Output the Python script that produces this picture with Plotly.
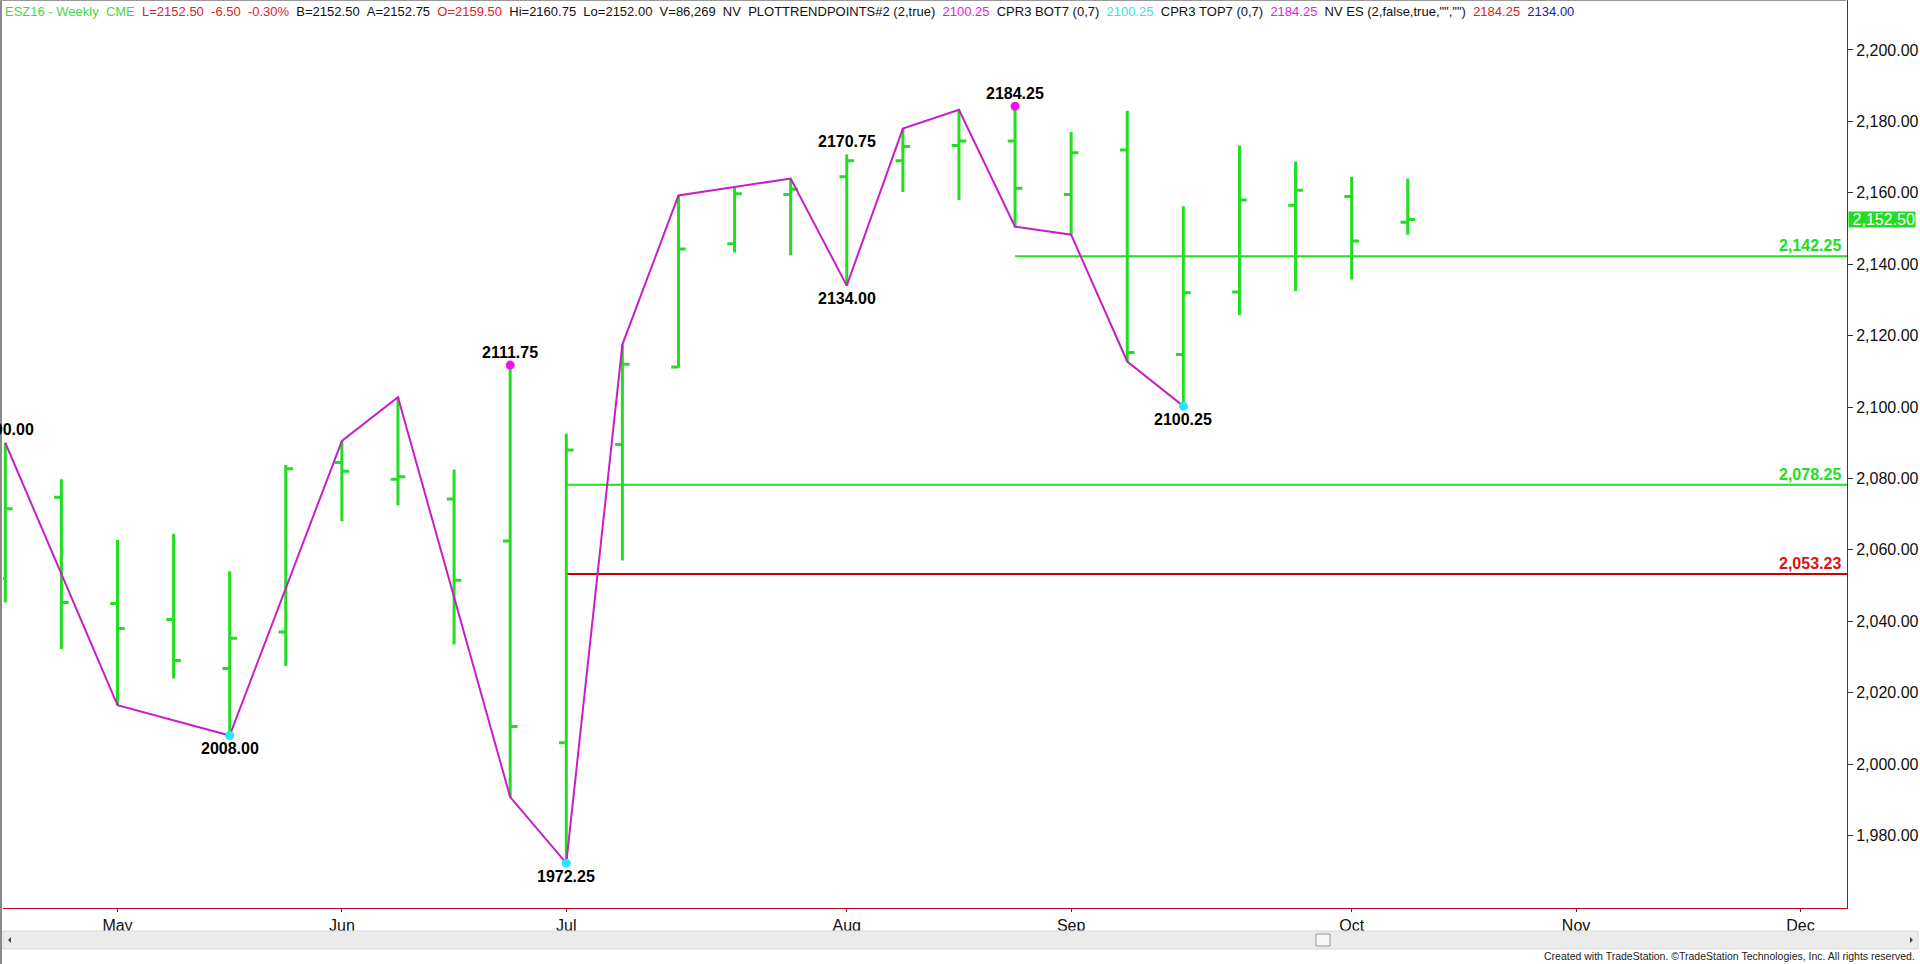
import plotly.graph_objects as go

# ---------------- data ----------------
WEEKS = ["2016-04-22", "2016-04-29", "2016-05-06", "2016-05-13", "2016-05-20", "2016-05-27",
         "2016-06-03", "2016-06-10", "2016-06-17", "2016-06-24", "2016-07-01", "2016-07-08",
         "2016-07-15", "2016-07-22", "2016-07-29", "2016-08-05", "2016-08-12", "2016-08-19",
         "2016-08-26", "2016-09-02", "2016-09-09", "2016-09-16", "2016-09-23", "2016-09-30",
         "2016-10-07", "2016-10-14"]
OPEN = [2052.00, 2074.75, 2045.00, 2040.50, 2026.75, 2037.00, 2084.50, 2079.75, 2074.25,
        2062.50, 2006.00, 2089.50, 2111.25, 2145.75, 2159.50, 2164.50, 2169.00, 2173.25,
        2174.50, 2159.50, 2172.00, 2114.75, 2132.25, 2156.50, 2159.00, 2151.75]
HIGH = [2090.00, 2079.75, 2062.75, 2064.50, 2054.00, 2083.75, 2090.50, 2102.75, 2082.50,
        2111.75, 2092.50, 2117.50, 2159.25, 2161.50, 2164.00, 2170.75, 2178.00, 2183.25,
        2184.25, 2177.00, 2183.00, 2156.25, 2173.25, 2168.75, 2164.50, 2164.00]
LOW = [2045.25, 2032.25, 2016.50, 2024.00, 2008.00, 2027.50, 2068.00, 2072.50, 2033.50,
       1990.75, 1972.25, 2057.00, 2111.00, 2143.25, 2142.50, 2134.00, 2160.25, 2158.00,
       2150.50, 2148.25, 2112.75, 2100.25, 2125.75, 2132.50, 2135.75, 2148.25]
CLOSE = [2071.50, 2045.25, 2038.00, 2029.00, 2035.25, 2082.75, 2082.00, 2080.50, 2051.50,
         2010.50, 2088.00, 2112.00, 2144.25, 2159.75, 2161.00, 2169.00, 2173.00, 2174.50,
         2161.25, 2171.25, 2115.25, 2132.00, 2158.00, 2160.75, 2146.50, 2152.50]

# month tick labels at the first weekly bar of each month (bar index)
MONTH_IDX = [2, 6, 10, 15, 19, 24, 28, 32]
MONTH_TXT = ["May", "Jun", "Jul", "Aug", "Sep", "Oct", "Nov", "Dec"]

# zig-zag trend line pivots (bar index, H/L)
ZZ_IDX = [0, 2, 4, 6, 7, 9, 10, 11, 12, 14, 15, 16, 17, 18, 19, 20, 21]
ZZ_KIND = ["H", "L", "L", "H", "H", "L", "L", "H", "H", "H", "L", "H", "H", "L", "L", "L", "L"]

# labelled pivots
LBL_IDX = [0, 4, 9, 10, 15, 15, 18, 21]
LBL_KIND = ["H", "L", "H", "L", "H", "L", "H", "L"]
MAG_DOT_IDX = [9, 18]
CYAN_DOT_IDX = [4, 10, 21]

# horizontal levels: value, start bar index
LEVELS = [2142.25, 2078.25, 2053.23]
LEVEL_START = [18, 10, 10]
LAST_PRICE = 2152.50

Y_TICKS = [1980, 2000, 2020, 2040, 2060, 2080, 2100, 2120, 2140, 2160, 2180, 2200]

# header status line (text, colour)
HEADER = [
    ("ESZ16 - Weekly  CME", "#44d944"),
    ("L=2152.50  -6.50  -0.30%", "#dd2222"),
    ("B=2152.50  A=2152.75", "#111111"),
    ("O=2159.50", "#dd2222"),
    ("Hi=2160.75  Lo=2152.00  V=86,269  NV  PLOTTRENDPOINTS#2 (2,true)", "#111111"),
    ("2100.25", "#dd22dd"),
    ("CPR3 BOT7 (0,7)", "#111111"),
    ("2100.25", "#44dddd"),
    ("CPR3 TOP7 (0,7)", "#111111"),
    ("2184.25", "#dd22dd"),
    ("NV ES (2,false,true,\"\",\"\")", "#111111"),
    ("2184.25", "#dd2222"),
    ("2134.00", "#1a1a9a"),
]

# ---------------- style / geometry ----------------
W, H = 1920, 964
ML, MR, MT, MB = 3, 73, 0, 56
PW, PH = W - ML - MR, H - MT - MB
X_RANGE = [-0.041, 32.83]
Y_RANGE = [1959.7, 2214.0]

GREEN = "#22dd22"
AXRED = "#c0001c"
PURPLE = "#c81ec8"
MAGENTA = "#ee11ee"
CYAN = "#22e5ff"
FONT = "Arial, Liberation Sans, sans-serif"


def PX(px):
    return (px - ML) / PW


def PY(py):
    return (MT + PH - py) / PH


def val(i, k):
    return HIGH[i] if k == "H" else LOW[i]


def sp(t):
    return t.replace(" ", "&nbsp;")


n = len(OPEN)
xs = list(range(n))

fig = go.Figure()

fig.add_trace(go.Ohlc(
    x=xs, open=OPEN, high=HIGH, low=LOW, close=CLOSE,
    increasing=dict(line=dict(color=GREEN, width=3)),
    decreasing=dict(line=dict(color=GREEN, width=3)),
    tickwidth=0.13, hoverinfo="skip", showlegend=False,
))

fig.add_trace(go.Scatter(
    x=ZZ_IDX, y=[val(i, k) for i, k in zip(ZZ_IDX, ZZ_KIND)],
    mode="lines", line=dict(color=PURPLE, width=2), hoverinfo="skip", showlegend=False,
))

fig.add_trace(go.Scatter(
    x=MAG_DOT_IDX, y=[HIGH[i] for i in MAG_DOT_IDX], mode="markers",
    marker=dict(color=MAGENTA, size=9), hoverinfo="skip", showlegend=False,
))
fig.add_trace(go.Scatter(
    x=CYAN_DOT_IDX, y=[LOW[i] for i in CYAN_DOT_IDX], mode="markers",
    marker=dict(color=CYAN, size=9), hoverinfo="skip", showlegend=False,
))

annotations = []
for i, k in zip(LBL_IDX, LBL_KIND):
    v = val(i, k)
    annotations.append(dict(
        x=i, y=v, xref="x", yref="y", text=f"<b>{v:.2f}</b>", showarrow=False,
        xanchor="center", yanchor="middle", yshift=13 if k == "H" else -13,
        font=dict(family=FONT, size=16, color="#000000"),
    ))

shapes = []
level_colors = [GREEN, GREEN, "#cc0000"]
label_colors = [GREEN, GREEN, "#dd1111"]
for lv, st, lc, tc in zip(LEVELS, LEVEL_START, level_colors, label_colors):
    shapes.append(dict(type="line", xref="x", yref="y", x0=st, x1=X_RANGE[1], y0=lv, y1=lv,
                       line=dict(color=lc, width=2), layer="below"))
    annotations.append(dict(
        x=PX(1843), y=lv, xref="paper", yref="y", text=f"<b>{lv:,.2f}</b>", showarrow=False,
        xanchor="right", yanchor="bottom", yshift=0, font=dict(family=FONT, size=16, color=tc),
    ))

# last price box on axis
annotations.append(dict(
    x=1, y=LAST_PRICE, xref="paper", yref="y", text=f"{LAST_PRICE:,.2f}", showarrow=False,
    xanchor="left", yanchor="middle", xshift=1, width=66, height=15, align="right",
    bgcolor="#22dd22", borderpad=0, font=dict(family=FONT, size=16, color="#ffffff"),
))

# header as one line of coloured spans
header_html = "&nbsp;&nbsp;".join(
    f'<span style="color:{c}">{sp(t)}</span>' for t, c in HEADER
)
annotations.append(dict(
    x=PX(3), y=PY(11), xref="paper", yref="paper", text=header_html, showarrow=False,
    xanchor="left", yanchor="middle", font=dict(family=FONT, size=13, color="#111111"),
))

annotations.append(dict(
    x=PX(1917), y=PY(956), xref="paper", yref="paper",
    text="Created with TradeStation. ©TradeStation Technologies, Inc. All rights reserved.",
    showarrow=False, xanchor="right", yanchor="middle",
    font=dict(family=FONT, size=10.5, color="#222222"),
))

# borders, scrollbar
shapes += [
    dict(type="rect", xref="paper", yref="paper", x0=PX(0), x1=PX(2), y0=PY(964), y1=PY(0),
         fillcolor="#8a8a8a", line=dict(width=0)),
    dict(type="line", xref="paper", yref="paper", x0=PX(0), x1=PX(1846), y0=PY(0.5), y1=PY(0.5),
         line=dict(color="#999999", width=1)),
    dict(type="rect", xref="paper", yref="paper", x0=PX(3), x1=PX(1918), y0=PY(949), y1=PY(931),
         fillcolor="#ebebeb", line=dict(color="#dadada", width=1)),
    dict(type="rect", xref="paper", yref="paper", x0=PX(1316), x1=PX(1330), y0=PY(946), y1=PY(934),
         fillcolor="#f6f6f6", line=dict(color="#9a9a9a", width=1)),
    dict(type="path", xref="paper", yref="paper",
         path=f"M {PX(8)},{PY(940)} L {PX(11)},{PY(937)} L {PX(11)},{PY(943)} Z",
         fillcolor="#444444", line=dict(width=0)),
    dict(type="path", xref="paper", yref="paper",
         path=f"M {PX(1913)},{PY(940)} L {PX(1910)},{PY(937)} L {PX(1910)},{PY(943)} Z",
         fillcolor="#444444", line=dict(width=0)),
]

fig.update_layout(
    width=W, height=H, margin=dict(l=ML, r=MR, t=MT, b=MB, pad=0),
    paper_bgcolor="#ffffff", plot_bgcolor="#ffffff", showlegend=False,
    annotations=annotations, shapes=shapes,
    font=dict(family=FONT, color="#111111"),
    xaxis=dict(
        range=X_RANGE, rangeslider=dict(visible=False), showgrid=False, zeroline=False,
        tickmode="array", tickvals=MONTH_IDX, ticktext=MONTH_TXT,
        ticks="outside", ticklen=3, tickcolor=AXRED, tickwidth=1,
        showline=True, linecolor=AXRED, linewidth=1,
        tickfont=dict(family=FONT, size=16, color="#111111"),
    ),
    yaxis=dict(
        range=Y_RANGE, side="right", showgrid=False, zeroline=False,
        tickmode="array", tickvals=Y_TICKS, tickformat=",.2f",
        ticks="outside", ticklen=5, tickcolor="#333333", tickwidth=1,
        showline=True, linecolor=AXRED, linewidth=1,
        tickfont=dict(family=FONT, size=16, color="#111111"),
    ),
)

fig.write_html(
    "out.html",
    config={"displayModeBar": False},
    post_script="document.body.style.margin='0';document.body.style.overflow='hidden';",
)
